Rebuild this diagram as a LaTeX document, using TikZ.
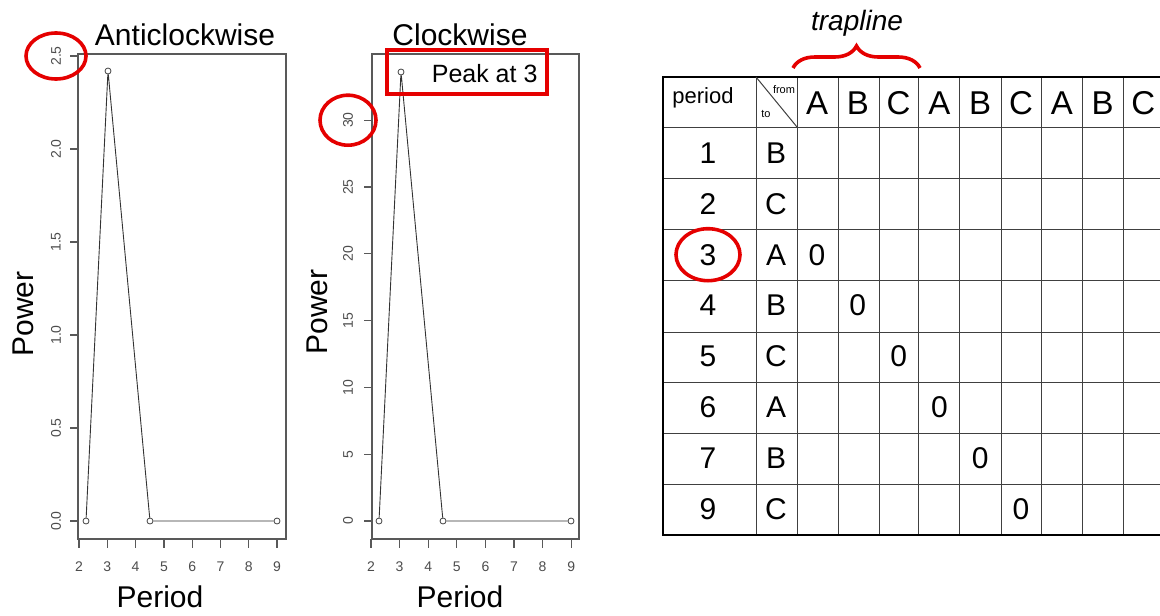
\documentclass[tikz,border=0pt]{standalone}
\usepackage{fontspec}
\setmainfont{Liberation Sans}
\usetikzlibrary{decorations.pathreplacing}
\tikzset{big/.style={font=\fontsize{30}{30}\selectfont}}
\tikzset{tk/.style={font=\fontsize{14}{14}\selectfont, text=black!70, inner sep=1pt}}
\tikzset{cell/.style={font=\fontsize{30}{30}\selectfont, inner sep=1pt}}
\tikzset{head/.style={font=\fontsize{33}{33}\selectfont, inner sep=1pt}}
\tikzset{axis/.style={draw=black!65, line width=1.3pt}}
\tikzset{dline/.style={draw=black!80, line width=0.9pt}}
\tikzset{pt/.style={circle, draw=black!75, line width=0.8pt, inner sep=0pt, minimum size=6pt}}
\tikzset{grid/.style={draw=black!75, line width=1pt}}
\tikzset{frame/.style={draw=black, line width=2.6pt}}
\tikzset{ring/.style={draw=red!90!black, line width=3.6pt}}

\begin{document}
\begin{tikzpicture}[x=1pt,y=-1pt]
\useasboundingbox (0,0) rectangle (1160,616);

% anticlockwise plot
\draw[axis] (78,54) rectangle (286,539);
\node[big] (title1) at (185,35) {Anticlockwise};
\node[big] (xlab1) at (160,597) {Period};
\node[big, rotate=90] (ylab1) at (23,314) {Power};
\foreach \v/\l [count=\i] in {0/0.0,0.5/0.5,1/1.0,1.5/1.5,2/2.0,2.5/2.5}{
  \draw[axis] (78,521-186*\v) -- ++(-8,0);
  \node[tk, rotate=90] (ly\i) at (56,521-186*\v) {\l};
}
\foreach \x in {2,...,9}{
  \draw[axis] (79+28.3*\x-56.6,539) -- ++(0,9);
  \node[tk] (lx\x) at (79+28.3*\x-56.6,567) {\x};
}
\node[pt] (a1) at (86,521) {};
\node[pt] (a2) at (108,71) {};
\node[pt] (a3) at (150,521) {};
\node[pt] (a4) at (277,521) {};
\draw[dline] (a1) -- (a2) -- (a3) -- (a4);
\draw[ring] (ly6) ellipse (30 and 23);

% clockwise plot
\draw[axis] (372,54) rectangle (579,539);
\node[big] (title2) at (460,35) {Clockwise};
\node[big] (xlab2) at (460,597) {Period};
\node[big, rotate=90] (ylab2) at (317,312) {Power};
\foreach \v [count=\i] in {0,5,...,30}{
  \draw[axis] (372,521-13.36*\v) -- ++(-8,0);
  \node[tk, rotate=90] (ry\i) at (348,521-13.36*\v) {\v};
}
\foreach \x in {2,...,9}{
  \draw[axis] (371+28.6*\x-57.2,539) -- ++(0,9);
  \node[tk] (rx\x) at (371+28.6*\x-57.2,567) {\x};
}
\node[pt] (b1) at (379,521) {};
\node[pt] (b2) at (401,72) {};
\node[pt] (b3) at (443,521) {};
\node[pt] (b4) at (571,521) {};
\draw[dline] (b1) -- (b2) -- (b3) -- (b4);
\node[font=\fontsize{25}{25}\selectfont, anchor=east] (peak) at (541,74) {Peak at 3};
\draw[ring] (387,50) rectangle (547,94);
\draw[ring] (ry7) ellipse (28 and 25);

% table
\foreach \x in {756,797,838,879,918,959,1001,1041,1082,1123}
  \draw[grid] (\x,77) -- (\x,535);
\foreach \y in {127,178,229,280,332,382,433,484}
  \draw[grid] (663,\y) -- (1166,\y);
\draw[frame] (1166,77) -- (663,77) -- (663,535) -- (1166,535);
\draw[grid] (756,77) -- (797,127);
\node[font=\fontsize{22}{22}\selectfont] (period) at (703,98) {period};
\node[font=\fontsize{11}{11}\selectfont, inner sep=0pt] (from) at (784,90) {from};
\node[font=\fontsize{11}{11}\selectfont, inner sep=0pt] (to) at (766,114) {to};
\foreach \l [count=\j] in {A,B,C,A,B,C,A,B,C}
  \node[head] (h\j) at (817+40.8*\j-40.8,103) {\l};
\foreach \p/\t [count=\i] in {1/B,2/C,3/A,4/B,5/C,6/A,7/B,9/C}{
  \node[cell] (p\i) at (708,102+50.9*\i) {\p};
  \node[cell] (t\i) at (776,102+50.9*\i) {\t};
}
\foreach \i in {3,...,8}
  \node[cell] (z\i) at (817+40.8*\i-122.4,102+50.9*\i) {0};
\draw[ring] (p3) ellipse (32 and 26);

% trapline brace
\node[font=\fontsize{28}{28}\selectfont\itshape] (trap) at (857,23) {trapline};
\draw[ring, decorate, decoration={brace, amplitude=22pt}] (793,68) -- (920,68);
\end{tikzpicture}
\end{document}
